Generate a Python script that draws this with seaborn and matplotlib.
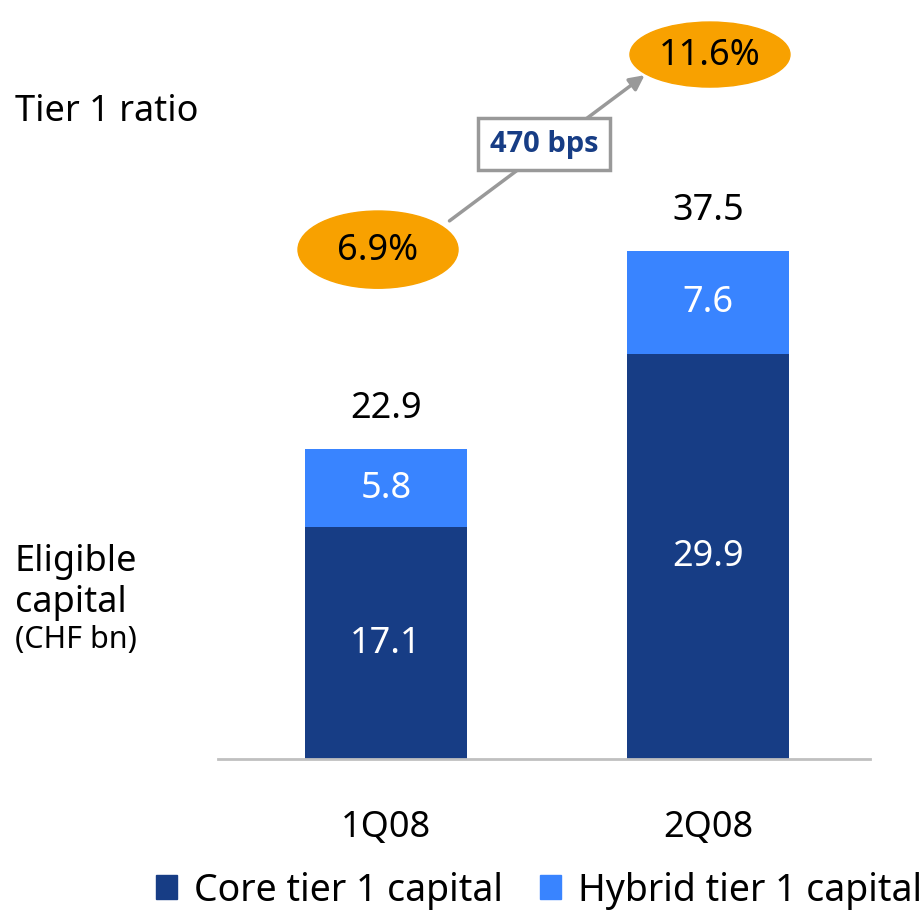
import matplotlib
matplotlib.use("Agg")
import matplotlib.pyplot as plt
import seaborn as sns
import pandas as pd
from matplotlib.patches import Ellipse, Patch

quarters = ["1Q08", "2Q08"]
core_tier1 = [17.1, 29.9]
hybrid_tier1 = [5.8, 7.6]
totals = [22.9, 37.5]
tier1_ratio = ["6.9%", "11.6%"]
ratio_change = "470 bps"

dark_blue = "#173d85"
light_blue = "#3984ff"
orange = "#f8a100"
FS = 26

sns.set_theme(style="white")
plt.rcParams["font.family"] = ["Noto Sans", "DejaVu Sans"]
plt.rcParams["text.color"] = "black"
plt.rcParams["xtick.color"] = "black"

df = pd.DataFrame({"quarter": quarters, "core": core_tier1, "total": totals})

fig = plt.figure(figsize=(9.22, 9.12), dpi=100)
ax = fig.add_axes([218 / 922, 152 / 912, 652 / 922, 760 / 912])

# stacked bars: total in light blue, core drawn over it
sns.barplot(data=df, x="quarter", y="total", color=light_blue, width=0.503,
            saturation=1, linewidth=0, ax=ax)
sns.barplot(data=df, x="quarter", y="core", color=dark_blue, width=0.503,
            saturation=1, linewidth=0, ax=ax)

ax.set_xlim(-0.522, 1.503)
ax.set_ylim(0, 56.1)
ax.set_xlabel("")
ax.set_ylabel("")
ax.set_yticks([])
for s in ["top", "right", "left"]:
    ax.spines[s].set_visible(False)
ax.spines["bottom"].set_color("#c0c0c0")
ax.spines["bottom"].set_linewidth(2)
ax.tick_params(axis="x", length=0, pad=36, labelsize=FS, labelcolor="black")

for i in range(len(quarters)):
    ax.text(i, core_tier1[i] / 2, f"{core_tier1[i]:.1f}", color="white",
            ha="center", va="center", fontsize=FS)
    ax.text(i, core_tier1[i] + hybrid_tier1[i] / 2, f"{hybrid_tier1[i]:.1f}",
            color="white", ha="center", va="center", fontsize=FS)
    ax.text(i, totals[i] + 3.0, f"{totals[i]:.1f}", color="black",
            ha="center", va="center", fontsize=FS)

# tier 1 ratio ellipses
ell_pos = [(-0.025, 37.6, 0.497, 5.7), (1.006, 52.0, 0.497, 4.8)]
for (x, y, w, h), txt in zip(ell_pos, tier1_ratio):
    ax.add_patch(Ellipse((x, y), w, h, color=orange, clip_on=False, zorder=3))
    ax.text(x, y, txt, ha="center", va="center", fontsize=FS, zorder=4)

ax.annotate("", xy=(0.81, 50.6), xytext=(0.19, 39.6),
            arrowprops=dict(arrowstyle="-|>", color="#999999", lw=2.5,
                            mutation_scale=22), zorder=2)
ax.text(0.49, 45.4, ratio_change, ha="center", va="center", fontsize=21,
        fontweight="bold", family=["Open Sans", "DejaVu Sans"],
        color=dark_blue, zorder=5,
        bbox=dict(boxstyle="square,pad=0.4", fc="white", ec="#999999", lw=2.5))

fig.text(15 / 922, 1 - 112 / 912, "Tier 1 ratio", fontsize=FS, va="center")
fig.text(15 / 922, 1 - 612 / 912, "Eligible\ncapital", fontsize=FS,
         va="baseline", linespacing=1.2)
fig.text(15 / 922, 1 - 648 / 912, "(CHF bn)", fontsize=22, va="baseline")

handles = [Patch(color=dark_blue), Patch(color=light_blue)]
fig.legend(handles, ["Core tier 1 capital", "Hybrid tier 1 capital"],
           loc="center right", bbox_to_anchor=(1.0, 1 - 891 / 912), ncol=2,
           frameon=False, fontsize=27, handlelength=0.55, handleheight=0.6,
           handletextpad=0.45, columnspacing=1.0, borderpad=0, borderaxespad=0)

fig.savefig("out.png", dpi=100)
